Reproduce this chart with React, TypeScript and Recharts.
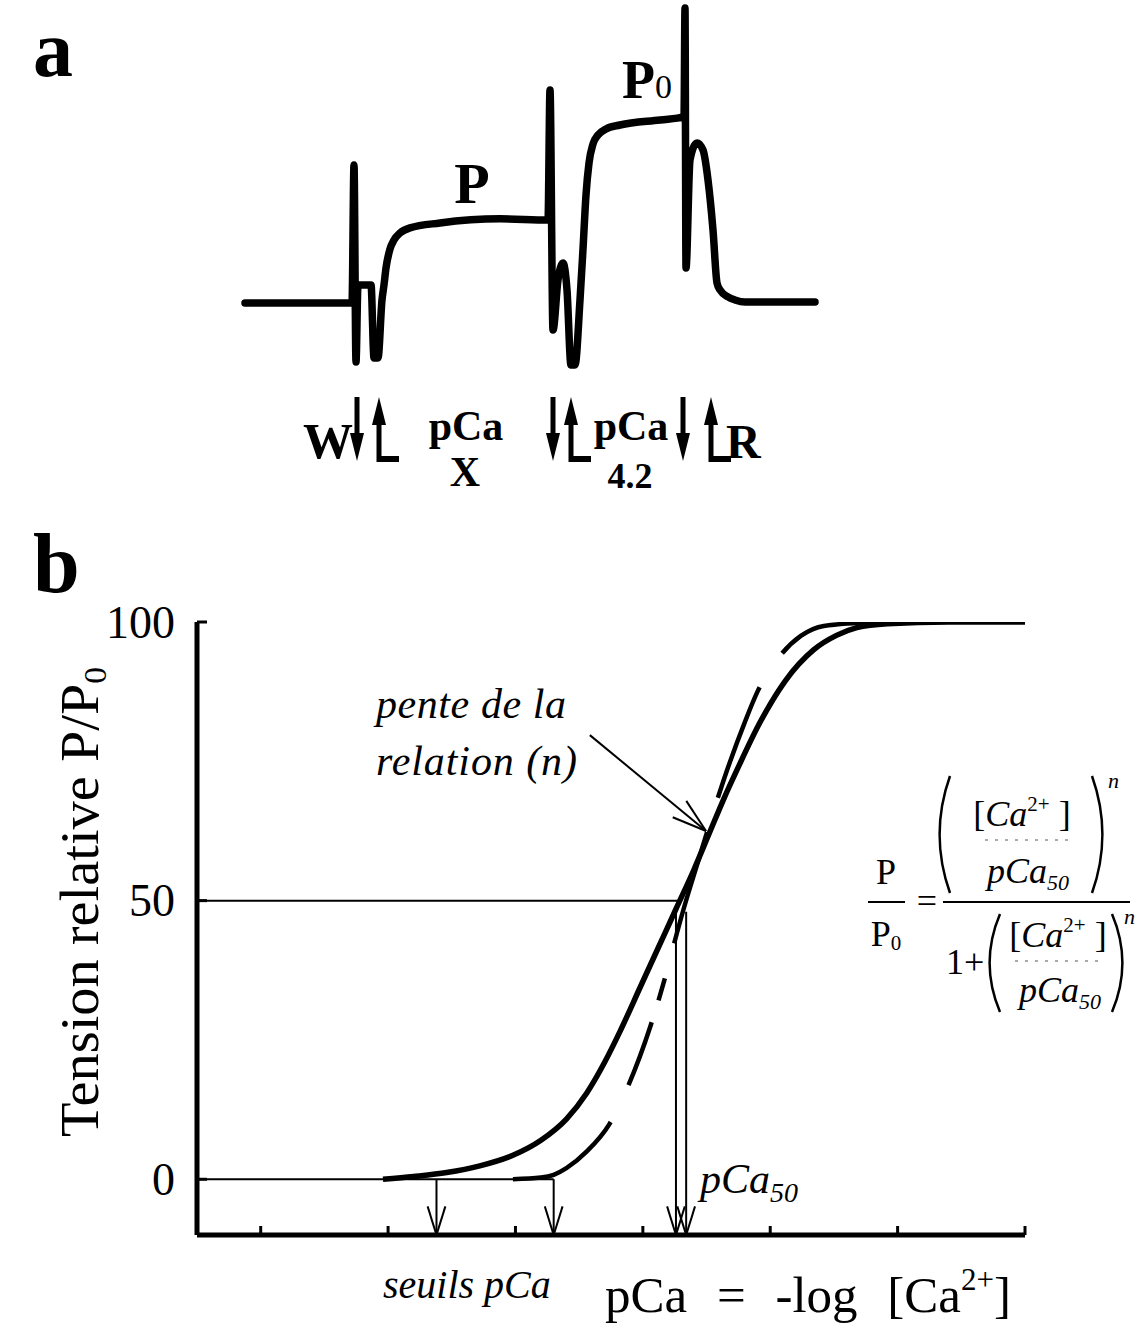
import { LineChart, Line, XAxis, YAxis, ReferenceLine } from 'recharts'

const SERIF = '"Liberation Serif", "Times New Roman", serif'

// ---- panel a : force trace (time in arbitrary units, tension in % of P0) ----
const traceTime = [
  0.5, 11.2, 11.4, 11.6, 11.8, 13.1, 13.4, 13.8, 14.2, 14.4, 14.6, 15.0, 15.4, 16.0, 17.0, 20.0, 26.0, 30.8,
  31.0, 31.3, 31.8, 32.3, 32.7, 33.1, 33.5, 34.0, 34.3, 34.6, 34.9, 35.3, 35.8, 36.6, 38.0, 42.0, 44.4,
  44.5, 44.6, 45.0, 45.7, 46.3, 46.8, 47.3, 47.7, 48.0, 48.8, 49.5, 50.5, 57.5,
]
const traceTension = [
  0, 0, 73.4, -31.4, 9.6, 9.6, -29.2, -29.2, 1.6, 9.6, 18.6, 28.7, 33.5, 37.2, 39.9, 42.5, 44.7, 44.1,
  113.2, -14.4, 12.2, 21.3, 6.9, -33, -33, 1.6, 28.7, 57.4, 74.4, 84.5, 89.3, 92.5, 94.6, 97.3, 98.9,
  156.8, 18.6, 76.0, 85.1, 81.3, 65.4, 38.8, 10.6, 6.9, 3.2, 1.6, 0.5, 0.5,
]
// solution changes under the trace
const washTimes = [11.7, 31.3, 44.3]
const activTimes = [13.9, 33.1, 47.1]

// ---- panel b : pCa / tension relation ----
const solidPCa = [6.52, 6.4, 6.27, 6.14, 6.01, 5.9, 5.8, 5.72, 5.65, 5.59, 5.51, 5.44, 5.37, 5.3, 5.24, 5.18, 5.13, 5.04, 4.94, 4.83, 4.74, 4.66, 4.54, 4.3, 4.0]
const solidTension = [0, 0.5, 1.2, 2.4, 4.3, 7.0, 10.8, 15.5, 21.0, 26.5, 34.5, 41.5, 48.5, 55.5, 62.0, 68.5, 73.5, 82.0, 89.5, 95.0, 97.6, 99.0, 99.7, 100, 100]
const dashedPCa = [6.01, 5.9, 5.85, 5.8, 5.72, 5.63, 5.56, 5.47, 5.42, 5.385, 5.34, 5.28, 5.24, 5.18, 5.1, 5.05, 4.96, 4.88, 4.79, 4.57]
const dashedTension = [0, 0.3, 0.8, 2.0, 5.0, 10.0, 16.5, 27.5, 35.0, 41.0, 48.5, 57.5, 63.5, 72.0, 82.0, 87.5, 94.0, 97.5, 99.3, 100]
const pCaTicks = [4, 4.5, 5, 5.5, 6, 6.5, 7]
const tensionTicks = [0, 50, 100]
const thresholdPCa = [6.31, 5.85]
const pCa50Marks = [5.37, 5.33]
const halfLineEnd = 5.35
const zeroLineEnd = 5.85
const slopeFrom = { x: 5.708, y: 79.7 }
const slopeTo = { x: 5.252, y: 62.5 }

const traceData = traceTime.map((t, i) => ({ t, v: traceTension[i] }))
const solidData = solidPCa.map((x, i) => ({ x, y: solidTension[i] }))
const dashedData = dashedPCa.map((x, i) => ({ x, y: dashedTension[i] }))

function DownMark(props: any) {
  const x = props.x1
  const b = Math.max(props.y1, props.y2)
  return (
    <g>
      <line x1={x} y1={b} x2={x} y2={b + 42} stroke="#000" strokeWidth={5} />
      <polygon points={`${x - 7},${b + 36} ${x + 7},${b + 36} ${x},${b + 64}`} fill="#000" />
    </g>
  )
}

function UpMark(props: any) {
  const x = props.x1
  const b = Math.max(props.y1, props.y2)
  return (
    <g>
      <polygon points={`${x - 7},${b + 28} ${x + 7},${b + 28} ${x},${b}`} fill="#000" />
      <line x1={x} y1={b + 22} x2={x} y2={b + 65} stroke="#000" strokeWidth={5} />
      <line x1={x - 2} y1={b + 62} x2={x + 20} y2={b + 62} stroke="#000" strokeWidth={6} />
    </g>
  )
}

function OpenArrow(props: any) {
  const { x1, y1, x2, y2 } = props
  const ang = Math.atan2(y2 - y1, x2 - x1)
  const len = props.headLen || 30
  const spread = 0.3
  const h1 = [x2 - len * Math.cos(ang - spread), y2 - len * Math.sin(ang - spread)]
  const h2 = [x2 - len * Math.cos(ang + spread), y2 - len * Math.sin(ang + spread)]
  return (
    <g stroke="#000" strokeWidth={2} fill="none">
      <line x1={x1} y1={y1} x2={x2} y2={y2} />
      <line x1={x2} y1={y2} x2={h1[0]} y2={h1[1]} />
      <line x1={x2} y1={y2} x2={h2[0]} y2={h2[1]} />
    </g>
  )
}

const noTick = () => <g />

function TensionTick(props: any) {
  const { x, y, payload } = props
  return (
    <text x={x - 30} y={y} textAnchor="end" dominantBaseline="central" fontSize={46} fontFamily={SERIF} fill="#000">
      {payload.value}
    </text>
  )
}

function Paren({ x, top, bottom, right }: { x: number; top: number; bottom: number; right?: boolean }) {
  const bow = right ? 13 : -13
  return (
    <path
      d={`M ${x} ${top} Q ${x + bow * 1.6} ${(top + bottom) / 2} ${x} ${bottom}`}
      stroke="#000"
      strokeWidth={2.5}
      fill="none"
    />
  )
}

function CaConc({ x, y }: { x: number; y: number }) {
  return (
    <text x={x} y={y} textAnchor="middle" fontSize={36} fontFamily={SERIF}>
      [<tspan fontStyle="italic">Ca</tspan>
      <tspan fontSize={21} dy={-15}>2+</tspan>
      <tspan dy={15}> ]</tspan>
    </text>
  )
}

function PCa50({ x, y }: { x: number; y: number }) {
  return (
    <text x={x} y={y} textAnchor="middle" fontSize={36} fontFamily={SERIF} fontStyle="italic">
      pCa<tspan fontSize={22} dy={7}>50</tspan>
    </text>
  )
}

function Overlay() {
  return (
    <svg width={1141} height={1328} style={{ position: 'absolute', left: 0, top: 0, pointerEvents: 'none' }} fontFamily={SERIF}>
      {/* panel letters */}
      <text x={33} y={76} fontSize={80} fontWeight="bold">a</text>
      <text x={33} y={592} fontSize={84} fontWeight="bold">b</text>

      {/* panel a labels */}
      <text x={472} y={203} fontSize={58} fontWeight="bold" textAnchor="middle">P</text>
      <text x={622} y={98} fontSize={54} fontWeight="bold">P<tspan fontSize={34} fontWeight="normal">0</tspan></text>
      <text x={303} y={458} fontSize={50} fontWeight="bold">W</text>
      <text x={466} y={440} fontSize={42} fontWeight="bold" textAnchor="middle">pCa</text>
      <text x={465} y={486} fontSize={42} fontWeight="bold" textAnchor="middle">X</text>
      <text x={631} y={440} fontSize={42} fontWeight="bold" textAnchor="middle">pCa</text>
      <text x={630} y={488} fontSize={36} fontWeight="bold" textAnchor="middle">4.2</text>
      <text x={726} y={458} fontSize={48} fontWeight="bold">R</text>

      {/* panel b axis title */}
      <text transform="translate(98, 902) rotate(-90)" textAnchor="middle" fontSize={54} textLength={470} lengthAdjust="spacingAndGlyphs">
        Tension relative P/P<tspan fontSize={32} dy={8}>0</tspan>
      </text>

      {/* annotations */}
      <text x={376} y={718} fontSize={42} fontStyle="italic" textLength={190} lengthAdjust="spacing">pente de la</text>
      <text x={376} y={775} fontSize={42} fontStyle="italic" textLength={201} lengthAdjust="spacing">relation (n)</text>
      <text x={383} y={1298} fontSize={40} fontStyle="italic">seuils pCa</text>
      <text x={700} y={1193} fontSize={42} fontStyle="italic">pCa<tspan fontSize={28} dy={9}>50</tspan></text>
      <text x={605} y={1312} fontSize={51} wordSpacing={17}>
        pCa = -log [Ca<tspan fontSize={31} dy={-22}>2+</tspan><tspan dy={22}>]</tspan>
      </text>

      {/* Hill equation */}
      <text x={886} y={884} fontSize={36} textAnchor="middle">P</text>
      <line x1={868} y1={902} x2={905} y2={902} stroke="#000" strokeWidth={2} />
      <text x={886} y={946} fontSize={36} textAnchor="middle">P<tspan fontSize={21} dy={4}>0</tspan></text>
      <text x={927} y={913} fontSize={36} textAnchor="middle">=</text>
      <line x1={943} y1={902} x2={1130} y2={902} stroke="#000" strokeWidth={2} />

      <Paren x={950} top={776} bottom={893} />
      <Paren x={1092} top={776} bottom={893} right />
      <CaConc x={1022} y={826} />
      <line x1={985} y1={840} x2={1075} y2={840} stroke="#555" strokeWidth={1} strokeDasharray="3 7" />
      <PCa50 x={1028} y={883} />
      <text x={1108} y={788} fontSize={22} fontStyle="italic">n</text>

      <text x={946} y={974} fontSize={36}>1+</text>
      <Paren x={1000} top={914} bottom={1012} />
      <Paren x={1112} top={914} bottom={1012} right />
      <CaConc x={1058} y={947} />
      <line x1={1015} y1={961} x2={1100} y2={961} stroke="#555" strokeWidth={1} strokeDasharray="3 7" />
      <PCa50 x={1060} y={1002} />
      <text x={1124} y={924} fontSize={22} fontStyle="italic">n</text>
    </svg>
  )
}

export default function App() {
  return (
    <div style={{ position: 'absolute', left: 0, top: 0, width: 1141, height: 1328, background: '#fff' }}>
      <div style={{ position: 'absolute', left: 0, top: 0 }}>
        <LineChart width={1141} height={480} data={traceData} margin={{ top: 2, right: 321, bottom: 83, left: 240 }}>
          <XAxis dataKey="t" type="number" domain={[0, 58]} hide allowDataOverflow />
          <YAxis type="number" domain={[-50, 160]} hide allowDataOverflow />
          <Line
            dataKey="v"
            type="monotone"
            stroke="#000"
            strokeWidth={7.5}
            strokeLinejoin="round"
            strokeLinecap="round"
            dot={false}
            isAnimationActive={false}
          />
          {washTimes.map((t) => (
            <ReferenceLine key={`w${t}`} x={t} stroke="none" shape={DownMark} />
          ))}
          {activTimes.map((t) => (
            <ReferenceLine key={`a${t}`} x={t} stroke="none" shape={UpMark} />
          ))}
        </LineChart>
      </div>

      <div style={{ position: 'absolute', left: 0, top: 560 }}>
        <LineChart width={1141} height={768} margin={{ top: 62, right: 116, bottom: 92, left: 137 }}>
          <XAxis
            dataKey="x"
            type="number"
            domain={[4, 7.25]}
            reversed
            allowDataOverflow
            ticks={pCaTicks}
            interval={0}
            tick={noTick}
            tickSize={-9}
            height={1}
            stroke="#000"
            axisLine={{ stroke: '#000', strokeWidth: 5 }}
            tickLine={{ stroke: '#000', strokeWidth: 3 }}
          />
          <YAxis
            type="number"
            domain={[-10, 100]}
            allowDataOverflow
            ticks={tensionTicks}
            interval={0}
            tick={TensionTick}
            tickSize={-10}
            width={60}
            stroke="#000"
            axisLine={{ stroke: '#000', strokeWidth: 5 }}
            tickLine={{ stroke: '#000', strokeWidth: 3 }}
          />
          <ReferenceLine segment={[{ x: 7.25, y: 50 }, { x: halfLineEnd, y: 50 }]} stroke="#000" strokeWidth={2} />
          <ReferenceLine segment={[{ x: 7.25, y: 0 }, { x: zeroLineEnd, y: 0 }]} stroke="#000" strokeWidth={2} />
          {thresholdPCa.map((p) => (
            <ReferenceLine key={`s${p}`} segment={[{ x: p, y: 0 }, { x: p, y: -10 }]} shape={OpenArrow} />
          ))}
          {pCa50Marks.map((p) => (
            <ReferenceLine key={`h${p}`} segment={[{ x: p, y: 48 }, { x: p, y: -10 }]} shape={OpenArrow} />
          ))}
          <ReferenceLine segment={[slopeFrom, slopeTo]} shape={(p: any) => <OpenArrow {...p} headLen={36} />} />
          <Line
            data={solidData}
            dataKey="y"
            type="monotone"
            stroke="#000"
            strokeWidth={5.5}
            dot={false}
            isAnimationActive={false}
          />
          <Line
            data={dashedData}
            dataKey="y"
            type="monotone"
            stroke="#000"
            strokeWidth={4.5}
            strokeDasharray="120 41 67 23 23 36 116 36 118 41 600"
            dot={false}
            isAnimationActive={false}
          />
        </LineChart>
      </div>

      <Overlay />
    </div>
  )
}
